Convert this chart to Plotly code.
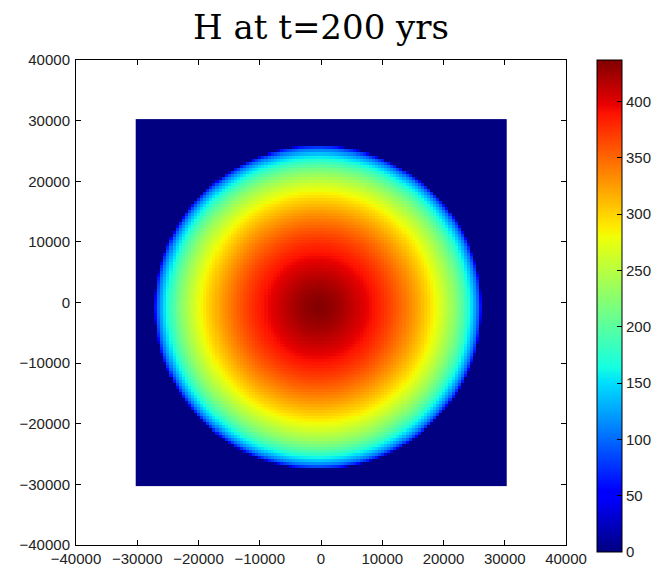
import numpy as np
import plotly.graph_objects as go

# Grid of model points (m)
grid_min = -30000
grid_max = 30000
grid_step = 500

# Dome centre (m) and radial thickness profile H(r) at t = 200 yrs
centre_x = -500
centre_y = -800
profile_r = [0, 2000, 4000, 6000, 8000, 10000, 12000, 14000, 16000, 18000,
             20000, 22000, 23000, 24000, 25000, 26000, 26500, 26700]
profile_h = [437, 431, 422, 410, 397, 382, 365, 345, 323, 298,
             268, 232, 210, 184, 151, 104, 61, 0]

axis_ticks = [-40000, -30000, -20000, -10000, 0, 10000, 20000, 30000, 40000]
axis_labels = [str(v).replace("-", "\u2212") for v in axis_ticks]
cbar_ticks = [0, 50, 100, 150, 200, 250, 300, 350, 400]

xs = np.arange(grid_min, grid_max + grid_step, grid_step)
ys = np.arange(grid_min, grid_max + grid_step, grid_step)
X, Y = np.meshgrid(xs, ys)
R = np.hypot(X - centre_x, Y - centre_y)
H = np.interp(R, profile_r, profile_h, right=0.0)

# matplotlib-style "jet" colour map
jet_r = [(0, 0), (0.35, 0), (0.66, 1), (0.89, 1), (1, 0.5)]
jet_g = [(0, 0), (0.125, 0), (0.375, 1), (0.64, 1), (0.91, 0), (1, 0)]
jet_b = [(0, 0.5), (0.11, 1), (0.34, 1), (0.65, 0), (1, 0)]
stops = sorted({p for seg in (jet_r, jet_g, jet_b) for p, _ in seg})


def channel(seg, t):
    return np.interp(t, [p for p, _ in seg], [v for _, v in seg])


jet = [[t, "rgb(%d,%d,%d)" % (round(255 * channel(jet_r, t)),
                              round(255 * channel(jet_g, t)),
                              round(255 * channel(jet_b, t)))] for t in stops]

fig = go.Figure(go.Heatmap(
    x=xs, y=ys, z=H,
    colorscale=jet,
    zmin=0, zmax=max(profile_h),
    colorbar=dict(
        x=1.063, xanchor="left", xpad=0,
        y=0.493, yanchor="middle", ypad=0,
        len=492, lenmode="pixels",
        thickness=25, thicknessmode="pixels",
        outlinecolor="black", outlinewidth=1,
        tickvals=cbar_ticks, ticks="inside", ticklen=5, tickcolor="black",
        tickfont=dict(family="Liberation Sans", size=15, color="#222"),
    ),
    hoverinfo="skip",
))

axis_style = dict(
    range=[-40000, 40000],
    tickvals=axis_ticks, ticktext=axis_labels,
    showgrid=False, zeroline=False,
    showline=True, linecolor="black", linewidth=1, mirror="ticks",
    ticks="inside", ticklen=5, tickcolor="black",
    tickfont=dict(family="Liberation Sans", size=15, color="#222"),
)

fig.update_layout(
    width=655, height=572,
    margin=dict(l=76, r=89, t=60, b=27, autoexpand=False),
    paper_bgcolor="white", plot_bgcolor="white",
    title=dict(text="H at t=200 yrs", x=0.5, xanchor="center",
               xref="paper", y=0.953, yanchor="middle",
               font=dict(family="DejaVu Serif", size=34, color="black")),
    xaxis=axis_style,
    yaxis=axis_style,
)
fig.update_xaxes(ticklabelstandoff=0)
fig.update_yaxes(ticklabelstandoff=2)

fig.write_html("out.html")
